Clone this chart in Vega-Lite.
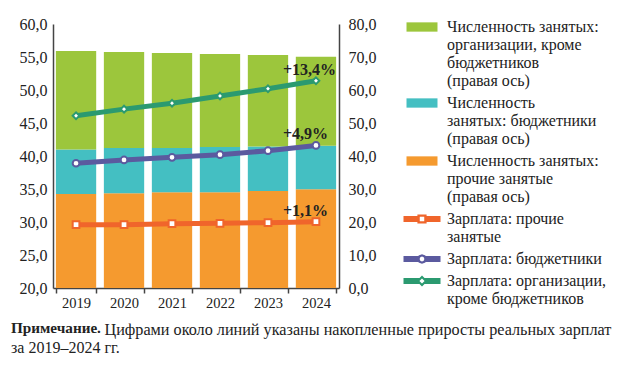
{
  "$schema": "https://vega.github.io/schema/vega-lite/v6.json",
  "width": 286,
  "height": 264,
  "autosize": {"type": "none"},
  "padding": {"left": 53, "top": 24, "right": 281, "bottom": 80},
  "config": {
    "font": "Liberation Serif",
    "view": {"stroke": null},
    "axis": {"labelFont": "Liberation Serif", "labelFontSize": 16, "labelColor": "#222", "domainColor": "#444", "domainWidth": 1.5, "grid": false, "tickColor": "#444", "tickWidth": 1.5, "labelOverlap": false}
  },
  "datasets": {
    "bars": [
      {"year": "2019", "series": "b3", "value": 28.5},
      {"year": "2020", "series": "b3", "value": 28.7},
      {"year": "2021", "series": "b3", "value": 29.0},
      {"year": "2022", "series": "b3", "value": 29.0},
      {"year": "2023", "series": "b3", "value": 29.4},
      {"year": "2024", "series": "b3", "value": 29.9},
      {"year": "2019", "series": "b2", "value": 13.5},
      {"year": "2020", "series": "b2", "value": 13.7},
      {"year": "2021", "series": "b2", "value": 13.4},
      {"year": "2022", "series": "b2", "value": 13.7},
      {"year": "2023", "series": "b2", "value": 13.5},
      {"year": "2024", "series": "b2", "value": 13.2},
      {"year": "2019", "series": "b1", "value": 29.8},
      {"year": "2020", "series": "b1", "value": 29.1},
      {"year": "2021", "series": "b1", "value": 28.8},
      {"year": "2022", "series": "b1", "value": 28.2},
      {"year": "2023", "series": "b1", "value": 27.7},
      {"year": "2024", "series": "b1", "value": 27.0}
    ],
    "lines": [
      {"year": "2019", "series": "l1", "value": 29.6},
      {"year": "2020", "series": "l1", "value": 29.6},
      {"year": "2021", "series": "l1", "value": 29.75},
      {"year": "2022", "series": "l1", "value": 29.8},
      {"year": "2023", "series": "l1", "value": 29.9},
      {"year": "2024", "series": "l1", "value": 30.05},
      {"year": "2019", "series": "l2", "value": 38.9},
      {"year": "2020", "series": "l2", "value": 39.4},
      {"year": "2021", "series": "l2", "value": 39.8},
      {"year": "2022", "series": "l2", "value": 40.2},
      {"year": "2023", "series": "l2", "value": 40.8},
      {"year": "2024", "series": "l2", "value": 41.6},
      {"year": "2019", "series": "l3", "value": 46.1},
      {"year": "2020", "series": "l3", "value": 47.1},
      {"year": "2021", "series": "l3", "value": 48.0},
      {"year": "2022", "series": "l3", "value": 49.1},
      {"year": "2023", "series": "l3", "value": 50.2},
      {"year": "2024", "series": "l3", "value": 51.4}
    ],
    "labels": [
      {"year": "2024", "value": 51.4, "label": "+13,4%"},
      {"year": "2024", "value": 41.6, "label": "+4,9%"},
      {"year": "2024", "value": 30.05, "label": "+1,1%"}
    ]
  },
  "title": {
    "text": "Примечание.",
    "subtitle": "за 2019–2024 гг.",
    "orient": "bottom",
    "anchor": "start",
    "frame": "bounds",
    "dx": -8,
    "font": "Liberation Serif",
    "fontSize": 15.2,
    "fontWeight": "bold",
    "color": "#222",
    "subtitleFont": "Liberation Serif",
    "subtitleFontSize": 16,
    "subtitleFontWeight": "normal",
    "subtitleColor": "#222",
    "subtitlePadding": 4,
    "offset": -16
  },
  "layer": [
    {
      "data": {"name": "bars"},
      "mark": {"type": "bar"},
      "encoding": {
        "x": {
          "field": "year", "type": "ordinal",
          "title": "Цифрами около линий указаны накопленные приросты реальных зарплат",
          "scale": {"paddingInner": 0.16, "paddingOuter": 0.06},
          "axis": {"labelAngle": 0, "tickBand": "extent", "tickSize": 5, "labelPadding": 3, "labelFontSize": 14.5,
            "titleFont": "Liberation Serif", "titleFontSize": 16.2, "titleFontWeight": "normal", "titleColor": "#222",
            "titleAlign": "left", "titleAnchor": "start", "titleBaseline": "middle", "titleX": 51, "titleY": 41}
        },
        "y": {
          "field": "value", "type": "quantitative", "stack": "zero", "title": null,
          "scale": {"domain": [0, 80], "nice": false},
          "axis": {"orient": "right", "values": [0, 10, 20, 30, 40, 50, 60, 70, 80], "ticks": false, "labelPadding": 9, "labelExpr": "replace(format(datum.value, '.1f'), '.', ',')"}
        },
        "color": {
          "field": "series", "type": "nominal",
          "scale": {"domain": ["b1", "b2", "b3", "l1", "l2", "l3"], "range": ["#9cc63c", "#44bfc2", "#f59a2f", "#f0652b", "#5b5a9f", "#2b9a70"]},
          "legend": {
            "title": null,
            "orient": "none",
            "legendX": 361,
            "legendY": -5,
            "labelFont": "Liberation Serif",
            "labelFontSize": 16,
            "labelColor": "#222",
            "labelLimit": 300,
            "labelOffset": 17,
            "labelBaseline": "top",
            "rowPadding": 6,
            "symbolSize": 100,
            "labelExpr": "datum.value == 'b1' ? ['Численность занятых:', 'организации, кроме', 'бюджетников', '(правая ось)'] : datum.value == 'b2' ? ['Численность', 'занятых: бюджетники', '(правая ось)'] : datum.value == 'b3' ? ['Численность занятых:', 'прочие занятые', '(правая ось)'] : datum.value == 'l1' ? ['Зарплата: прочие', 'занятые'] : datum.value == 'l2' ? 'Зарплата: бюджетники' : ['Зарплата: организации,', 'кроме бюджетников']",
            "encode": {
              "symbols": {"update": {
                "shape": {"signal": "datum.value == 'b1' || datum.value == 'b2' || datum.value == 'b3' ? 'M-3.1,-0.93H3.1V0.93H-3.1Z' : datum.value == 'l1' ? 'M-3.7,-0.6H3.7V0.6H-3.7Z M-0.92,-0.92H0.92V0.92H-0.92Z M-0.45,-0.45V0.45H0.45V-0.45Z M-0.45,-0.45V0.45H0.45V-0.45Z' : datum.value == 'l2' ? 'M-3.7,-0.6H3.7V0.6H-3.7Z M0.96,0L0.68,0.68L0,0.96L-0.68,0.68L-0.96,0L-0.68,-0.68L0,-0.96L0.68,-0.68Z M0.48,0L0.34,-0.34L0,-0.48L-0.34,-0.34L-0.48,0L-0.34,0.34L0,0.48L0.34,0.34Z M0.48,0L0.34,-0.34L0,-0.48L-0.34,-0.34L-0.48,0L-0.34,0.34L0,0.48L0.34,0.34Z' : 'M-3.7,-0.6H3.7V0.6H-3.7Z M0,-1.1L1.1,0L0,1.1L-1.1,0Z M0,-0.52L-0.52,0L0,0.52L0.52,0Z M0,-0.52L-0.52,0L0,0.52L0.52,0Z'"},
                "fill": {"scale": "color", "field": "value"},
                "fillOpacity": {"value": 1},
                "strokeWidth": {"value": 0}
              }},
              "labels": {"update": {"dy": {"value": -8}, "lineHeight": {"value": 18}}}
            }
          }
        },
        "order": {"field": "series", "sort": "descending"}
      }
    },
    {
      "layer": [
        {
          "data": {"name": "lines"},
          "mark": {"type": "line", "strokeWidth": 5},
          "encoding": {
            "x": {"field": "year", "type": "ordinal"},
            "y": {
              "field": "value", "type": "quantitative", "title": null,
              "scale": {"domain": [20, 60], "nice": false},
              "axis": {"orient": "left", "values": [20, 25, 30, 35, 40, 45, 50, 55, 60], "ticks": false, "labelPadding": 6, "labelOverlap": false, "labelExpr": "replace(format(datum.value, '.1f'), '.', ',')"}
            },
            "color": {"field": "series", "type": "nominal"}
          }
        },
        {
          "data": {"name": "lines"},
          "mark": {"type": "point", "filled": false, "fill": "white", "fillOpacity": 1, "opacity": 1, "strokeWidth": 2, "size": 45},
          "encoding": {
            "x": {"field": "year", "type": "ordinal"},
            "y": {"field": "value", "type": "quantitative", "title": null,
              "axis": {"orient": "left", "values": [20, 25, 30, 35, 40, 45, 50, 55, 60], "ticks": false, "labelPadding": 6, "labelOverlap": false, "labelExpr": "replace(format(datum.value, '.1f'), '.', ',')"}},
            "color": {"field": "series", "type": "nominal"},
            "shape": {"field": "series", "type": "nominal", "scale": {"domain": ["l1", "l2", "l3"], "range": ["square", "circle", "diamond"]}, "legend": null}
          }
        },
        {
          "data": {"name": "labels"},
          "mark": {"type": "text", "align": "left", "baseline": "middle", "dx": -33, "dy": -11, "fontWeight": "bold", "fontSize": 16, "font": "Liberation Serif", "color": "#222"},
          "encoding": {
            "x": {"field": "year", "type": "ordinal"},
            "y": {"field": "value", "type": "quantitative", "title": null,
              "axis": {"orient": "left", "values": [20, 25, 30, 35, 40, 45, 50, 55, 60], "ticks": false, "labelPadding": 6, "labelOverlap": false, "labelExpr": "replace(format(datum.value, '.1f'), '.', ',')"}},
            "text": {"field": "label"}
          }
        }
      ]
    }
  ],
  "resolve": {"scale": {"y": "independent"}}
}
